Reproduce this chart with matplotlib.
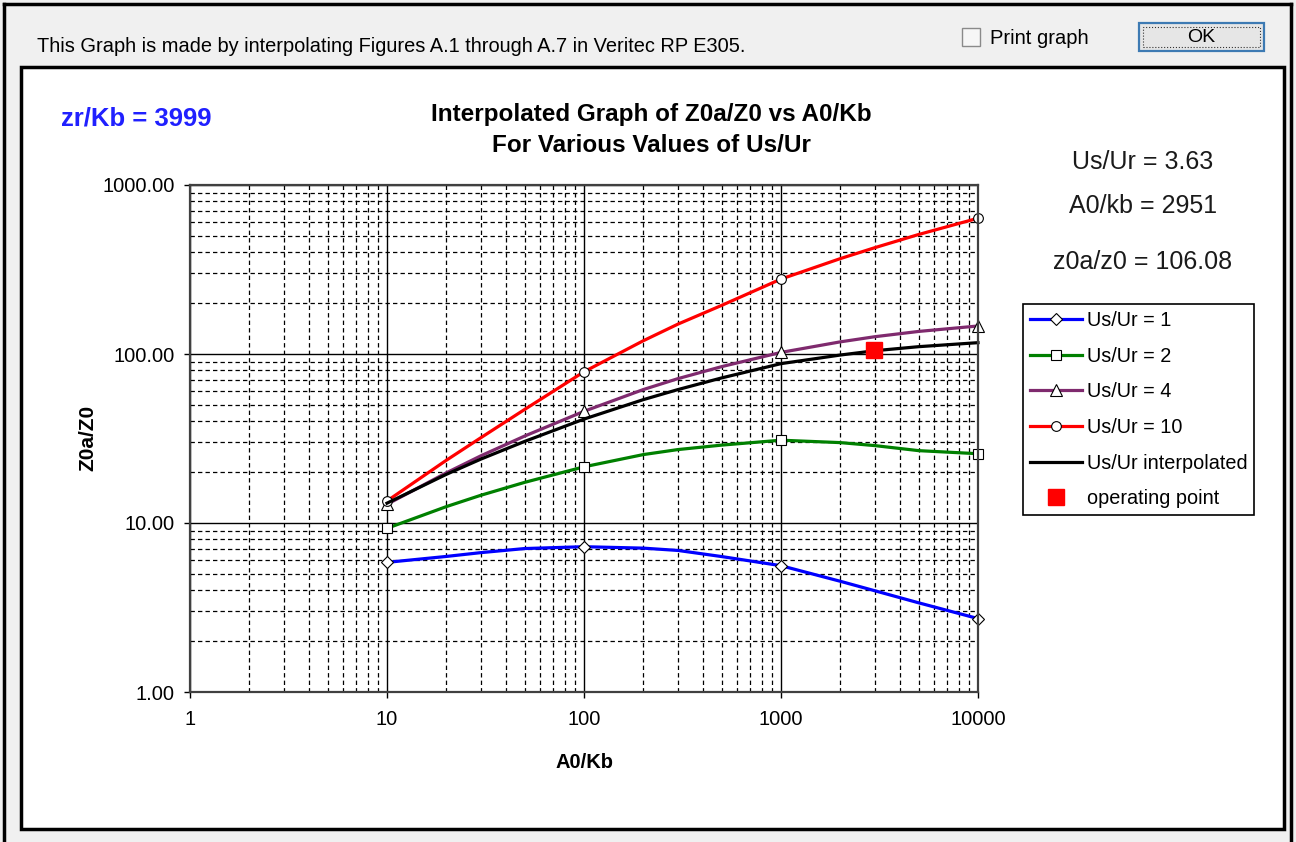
import numpy as np
import matplotlib
matplotlib.use('Agg')
import matplotlib.pyplot as plt
from matplotlib.patches import Rectangle
from matplotlib.lines import Line2D
from matplotlib.ticker import LogLocator, NullFormatter

plt.rcParams['font.family'] = ['Liberation Sans', 'DejaVu Sans']

# ---------------- data ----------------
a0_kb = [10, 20, 30, 50, 100, 200, 300, 500, 1000, 2000, 3000, 5000, 10000]
us_ur_1 = [5.85, 6.34, 6.68, 7.06, 7.24, 7.10, 6.88, 6.33, 5.59, 4.52, 3.97, 3.37, 2.72]
us_ur_2 = [9.3, 12.5, 14.6, 17.4, 21.5, 25.4, 27.2, 28.9, 30.9, 29.9, 28.7, 26.8, 25.7]
us_ur_4 = [12.9, 19.8, 25.0, 32.7, 45.8, 61.6, 71.5, 84.2, 102.2, 118.0, 126.6, 136.0, 146.5]
us_ur_10 = [13.5, 23.5, 32.0, 47.0, 78.5, 119.8, 150.3, 194.0, 277.6, 366.8, 426.0, 509.6, 636.0]
us_ur_interp = [13.1, 19.4, 23.9, 30.4, 41.2, 53.7, 61.6, 72.2, 87.7, 98.6, 104.6, 110.5, 116.7]
marker_idx = [0, 4, 8, 12]          # points carrying markers (the decades)
op_x = [2951]
op_y = [106.08]

series_labels = ['Us/Ur = 1', 'Us/Ur = 2', 'Us/Ur = 4', 'Us/Ur = 10',
                 'Us/Ur interpolated', 'operating point']
x_ticks = [1, 10, 100, 1000, 10000]
x_tick_labels = ['1', '10', '100', '1000', '10000']
y_ticks = [1, 10, 100, 1000]
y_tick_labels = ['1.00', '10.00', '100.00', '1000.00']

header_text = 'This Graph is made by interpolating Figures A.1 through A.7 in Veritec RP E305.'
title_lines = ['Interpolated Graph of Z0a/Z0 vs A0/Kb', 'For Various Values of Us/Ur']
zr_text = 'zr/Kb = 3999'
info_texts = ['Us/Ur = 3.63', 'A0/kb = 2951', 'z0a/z0 = 106.08']

# ---------------- layout helpers ----------------
W, H = 1296, 842
fig = plt.figure(figsize=(W / 100, H / 100), dpi=100, facecolor='#f0f0f0')


def fx(x):
    return x / W


def fy(y):
    return 1 - y / H


def rect(x0, y0, x1, y1, **kw):
    r = Rectangle((fx(x0), fy(y1)), fx(x1) - fx(x0), fy(y0) - fy(y1),
                  transform=fig.transFigure, **kw)
    fig.add_artist(r)
    return r


def line(xs, ys, **kw):
    fig.add_artist(Line2D([fx(x) for x in xs], [fy(y) for y in ys],
                          transform=fig.transFigure, **kw))


# window frame
line([4, 4], [842, 4], color='black', lw=2.5, zorder=-4)
line([4, 1291], [4, 4], color='black', lw=2.5, zorder=-4)
line([1291, 1291], [4, 842], color='black', lw=2.5, zorder=-4)

# white chart panel
rect(21, 67, 1284, 829, facecolor='white', edgecolor='black', lw=2.5, zorder=-5)

# header
fig.text(fx(37), fy(46), header_text, fontsize=14.4, ha='left', va='center')
rect(962, 28, 980, 46, facecolor='#f6f6f6', edgecolor='#8a8a8a', lw=1)
fig.text(fx(990), fy(38), 'Print graph', fontsize=14.5, ha='left', va='center')
rect(1139, 23, 1264, 51, facecolor='#e6e6e6', edgecolor='#3d7ab3', lw=1.6)
rect(1143, 27, 1260, 47, facecolor='none', edgecolor='#333333', lw=0.8, ls=':')
fig.text(fx(1201), fy(37), 'OK', fontsize=14, ha='center', va='center')

# ---------------- axes ----------------
ax = fig.add_axes([fx(190), fy(692), fx(978) - fx(190), fy(185) - fy(692)])
ax.set_facecolor('white')
ax.set_xscale('log')
ax.set_yscale('log')
ax.set_xlim(1, 10000)
ax.set_ylim(1, 1000)
ax.xaxis.set_minor_locator(LogLocator(base=10, subs=np.arange(2, 10)))
ax.yaxis.set_minor_locator(LogLocator(base=10, subs=np.arange(2, 10)))
ax.xaxis.set_minor_formatter(NullFormatter())
ax.yaxis.set_minor_formatter(NullFormatter())
ax.set_xticks(x_ticks, x_tick_labels)
ax.set_yticks(y_ticks, y_tick_labels)
ax.tick_params(which='major', direction='out', length=4, width=1, colors='black',
               labelsize=14.5)
ax.tick_params(axis='x', which='major', pad=9)
ax.tick_params(axis='y', which='major', pad=7)
ax.tick_params(which='minor', length=0)
ax.grid(which='major', color='black', lw=1.0, ls='-')
ax.grid(which='minor', color='black', lw=0.9, ls=(0, (3.5, 2.5)))
ax.set_axisbelow(True)
for s in ax.spines.values():
    s.set_color('#404040')
    s.set_linewidth(1.6)

mk = dict(markevery=marker_idx, mfc='white', mec='black', mew=0.8, clip_on=False)
ax.plot(a0_kb, us_ur_1, color='#0000ff', lw=2.3, marker='D', ms=6.5, label=series_labels[0], **mk)
ax.plot(a0_kb, us_ur_2, color='#008000', lw=2.3, marker='s', ms=7.5, label=series_labels[1], **mk)
ax.plot(a0_kb, us_ur_4, color='#7f2a6e', lw=2.3, marker='^', ms=8, label=series_labels[2], **mk)
ax.plot(a0_kb, us_ur_10, color='#ff0000', lw=2.3, marker='o', ms=7, label=series_labels[3], **mk)
ax.plot(a0_kb, us_ur_interp, color='black', lw=2.3, label=series_labels[4], clip_on=False)
ax.plot(op_x, op_y, ls='none', marker='s', ms=11, color='#ff0000', label=series_labels[5])

leg = ax.legend(loc='upper left', bbox_to_anchor=(fx(1023), fy(304)),
                bbox_transform=fig.transFigure, frameon=True, fancybox=False,
                edgecolor='black', framealpha=1, fontsize=14.3, handlelength=2.6,
                handletextpad=0.25, labelspacing=0.84, borderpad=0.35,
                borderaxespad=0, numpoints=1)
leg.get_frame().set_linewidth(1.2)

# ---------------- texts ----------------
fig.text(fx(136), fy(119), zr_text, color='#2020ff', fontsize=18.5, fontweight='bold',
         ha='center', va='center')
fig.text(fx(651), fy(114), title_lines[0], fontsize=17.5, fontweight='bold',
         ha='center', va='center')
fig.text(fx(651), fy(145), title_lines[1], fontsize=17.5, fontweight='bold',
         ha='center', va='center')
for t, yy in zip(info_texts, [162, 206, 262]):
    fig.text(fx(1143), fy(yy), t, fontsize=18, ha='center', va='center', color='#1a1a1a')
fig.text(fx(584), fy(762), 'A0/Kb', fontsize=14.5, fontweight='bold', ha='center', va='center')
fig.text(fx(88), fy(438), 'Z0a/Z0', fontsize=15, fontweight='bold', ha='center',
         va='center', rotation=90)

fig.savefig('out.png', dpi=100, facecolor=fig.get_facecolor())
